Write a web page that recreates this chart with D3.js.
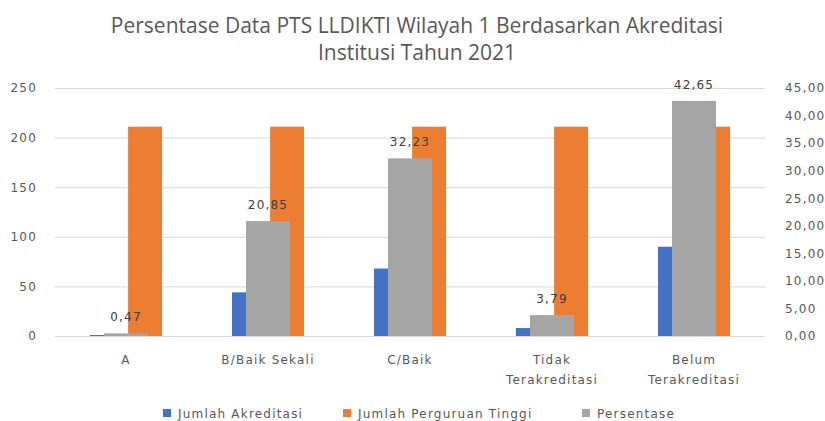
<!DOCTYPE html>
<html>
<head>
<meta charset="utf-8">
<script src="https://cdn.jsdelivr.net/npm/d3@7"></script>
<style>
  body { margin: 0; background: #fff; }
  #chart { width: 825px; height: 421px; }
  text { font-family: "DejaVu Sans", sans-serif; }
</style>
</head>
<body>
<div id="chart"></div>
<script>
// Data
const categories = ["A", "B/Baik Sekali", "C/Baik", "Tidak Terakreditasi", "Belum Terakreditasi"];
const categoryLines = [["A"], ["B/Baik Sekali"], ["C/Baik"], ["Tidak", "Terakreditasi"], ["Belum", "Terakreditasi"]];
const jumlahAkreditasi = [1, 44, 68, 8, 90];
const jumlahPerguruanTinggi = [211, 211, 211, 211, 211];
const persentase = [0.47, 20.85, 32.23, 3.79, 42.65];
const leftTicks = [0, 50, 100, 150, 200, 250];
const rightTicks = [0, 5, 10, 15, 20, 25, 30, 35, 40, 45];
const seriesNames = ["Jumlah Akreditasi", "Jumlah Perguruan Tinggi", "Persentase"];

(function () {
    const W = 825, H = 421;
    const margin = { top: 88, right: 60, bottom: 85, left: 55 };
    const width = W - margin.left - margin.right;
    const height = H - margin.top - margin.bottom;
    const colors = ["#4472C4", "#ED7D31", "#A5A5A5"];
    const fmt = v => d3.format(".2f")(v).replace(".", ",");

    const svg = d3.select("#chart").append("svg")
        .attr("width", W)
        .attr("height", H)
        .attr("viewBox", `0 0 ${W} ${H}`);

    // Title
    const title = svg.append("text")
        .attr("x", W / 2)
        .attr("text-anchor", "middle")
        .style("font-family", "'Open Sans', sans-serif")
        .style("font-size", "21px")
        .attr("fill", "#595959");
    title.append("tspan").attr("x", 417).attr("y", 33).text("Persentase Data PTS LLDIKTI Wilayah 1 Berdasarkan Akreditasi");
    title.append("tspan").attr("x", 417).attr("y", 60).text("Institusi Tahun 2021");

    const g = svg.append("g").attr("transform", `translate(${margin.left},${margin.top})`);

    // Scales
    const x = d3.scaleBand().domain(categories).range([0, width]);
    const yLeft = d3.scaleLinear().domain([0, 250]).range([height, 0]);
    const yRight = d3.scaleLinear().domain([0, 45]).range([height, 0]);

    // primary cluster (blue, orange) and secondary bar (grey)
    const bw = 32, gap = 8, greyW = 44;
    const inner = d3.scaleBand().domain([0, 1])
        .range([x.bandwidth() / 2 - bw - gap / 2, x.bandwidth() / 2 + bw + gap / 2])
        .paddingInner(gap / (2 * bw + gap));

    // Gridlines
    g.append("g")
        .call(d3.axisLeft(yLeft).tickValues(leftTicks).tickSize(-width).tickFormat(""))
        .call(s => s.select(".domain").remove())
        .call(s => s.selectAll("line").attr("stroke", "#d9d9d9"));

    // Left axis
    g.append("g")
        .attr("transform", "translate(-18,0)")
        .call(d3.axisLeft(yLeft).tickValues(leftTicks).tickSize(0).tickPadding(0))
        .call(s => s.select(".domain").remove())
        .call(s => s.selectAll("text")
            .style("font-family", "'DejaVu Sans', sans-serif")
            .style("font-size", "12px")
            .style("letter-spacing", "1.2px")
            .attr("fill", "#595959"));

    // Right axis
    g.append("g")
        .attr("transform", `translate(${width + 20},0)`)
        .call(d3.axisRight(yRight).tickValues(rightTicks).tickSize(0).tickPadding(0).tickFormat(fmt))
        .call(s => s.select(".domain").remove())
        .call(s => s.selectAll("text")
            .style("font-family", "'DejaVu Sans', sans-serif")
            .style("font-size", "12px")
            .style("letter-spacing", "1.2px")
            .attr("fill", "#595959"));

    // Primary bars
    const primary = [jumlahAkreditasi, jumlahPerguruanTinggi];
    primary.forEach((vals, si) => {
        g.append("g").attr("fill", colors[si])
            .selectAll("rect")
            .data(vals)
            .enter().append("rect")
            .attr("x", (d, i) => x(categories[i]) + inner(si))
            .attr("width", inner.bandwidth())
            .attr("y", d => yLeft(d))
            .attr("height", d => height - yLeft(d));
    });

    // Secondary bars (Persentase)
    g.append("g").attr("fill", colors[2])
        .selectAll("rect")
        .data(persentase)
        .enter().append("rect")
        .attr("x", (d, i) => x(categories[i]) + x.bandwidth() / 2 - greyW / 2)
        .attr("width", greyW)
        .attr("y", d => yRight(d))
        .attr("height", d => height - yRight(d));

    // Value labels
    g.append("g")
        .selectAll("text")
        .data(persentase)
        .enter().append("text")
        .attr("x", (d, i) => x(categories[i]) + x.bandwidth() / 2)
        .attr("y", d => yRight(d) - 12)
        .attr("text-anchor", "middle")
        .style("font-size", "12px")
        .style("letter-spacing", "1.2px")
        .attr("fill", "#404040")
        .text(fmt);

    // Category labels
    const xAxis = g.append("g")
        .attr("transform", `translate(0,${height})`)
        .call(d3.axisBottom(x).tickSize(0).tickFormat(""))
        .call(s => s.select(".domain").remove());
    xAxis.selectAll(".tick").each(function (d, i) {
        const t = d3.select(this).append("text")
            .attr("text-anchor", "middle")
            .attr("fill", "#595959")
            .style("font-size", "12px")
            .style("letter-spacing", "1.2px");
        categoryLines[i].forEach((line, k) => {
            t.append("tspan").attr("x", 0).attr("y", 28 + k * 20).text(line);
        });
    });

    // Legend
    const legendX = [163, 343, 582];
    const legend = svg.append("g").selectAll("g")
        .data(seriesNames)
        .enter().append("g")
        .attr("transform", (d, i) => `translate(${legendX[i]},409)`);
    legend.append("rect")
        .attr("width", 8)
        .attr("height", 8)
        .attr("fill", (d, i) => colors[i]);
    legend.append("text")
        .attr("x", 15)
        .attr("y", 9)
        .attr("fill", "#595959")
        .style("font-size", "12px")
        .style("letter-spacing", "1.2px")
        .text(d => d);
})();
</script>
</body>
</html>
